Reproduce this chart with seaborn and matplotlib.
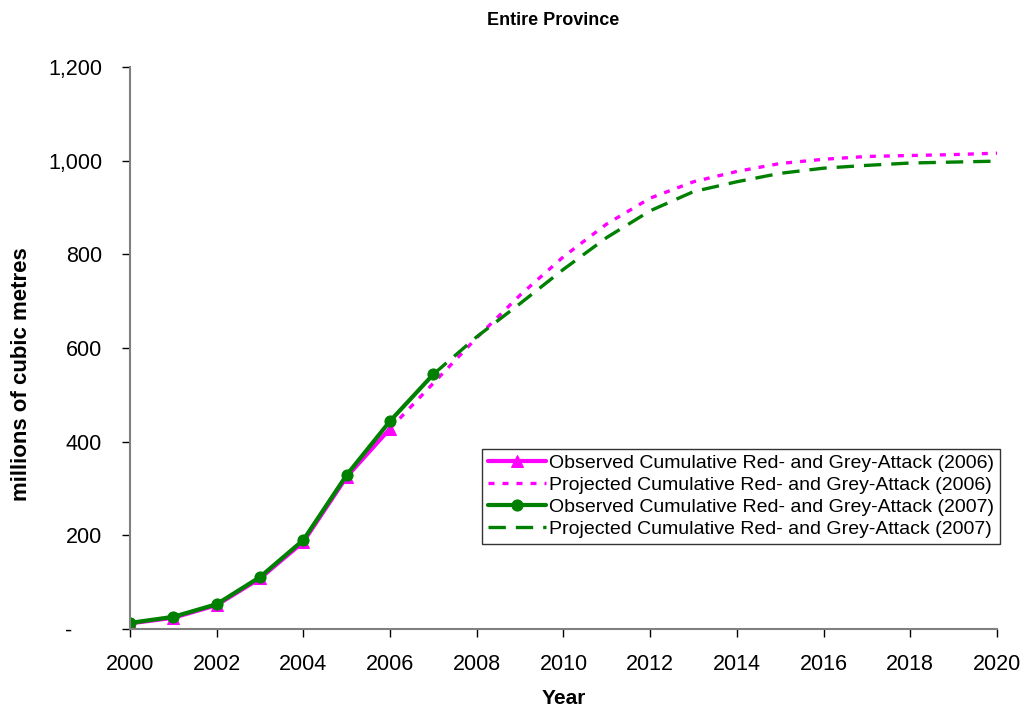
import matplotlib
matplotlib.use('Agg')
import matplotlib.pyplot as plt
import matplotlib.ticker as mticker
import seaborn as sns

# Observed and projected cumulative red- and grey-attack volumes
obs_years_2006 = [2000, 2001, 2002, 2003, 2004, 2005, 2006]
obs_2006 = [12, 24, 51, 108, 186, 325, 428]
proj_years_2006 = list(range(2006, 2021))
proj_2006 = [428, 525, 622, 713, 795, 865, 920, 955, 977, 994, 1003, 1009, 1011, 1013, 1016]

obs_years_2007 = [2000, 2001, 2002, 2003, 2004, 2005, 2006, 2007]
obs_2007 = [13, 26, 53, 111, 190, 329, 444, 544]
proj_years_2007 = list(range(2007, 2021))
proj_2007 = [544, 624, 695, 768, 836, 893, 934, 955, 973, 984, 990, 995, 997, 999]

labels = [
    'Observed Cumulative Red- and Grey-Attack (2006)',
    'Projected Cumulative Red- and Grey-Attack (2006)',
    'Observed Cumulative Red- and Grey-Attack (2007)',
    'Projected Cumulative Red- and Grey-Attack (2007)',
]

sns.set_style('white')
plt.rcParams['font.family'] = ['Liberation Sans', 'DejaVu Sans']
plt.rcParams['text.color'] = 'black'
plt.rcParams['axes.labelcolor'] = 'black'
plt.rcParams['xtick.color'] = 'black'
plt.rcParams['ytick.color'] = 'black'

fig = plt.figure(figsize=(10.23, 7.09), dpi=100)
ax = fig.add_axes([0.127, 0.1128, 0.8476, 0.7927])

magenta = '#FF00FF'
green = '#008000'

sns.lineplot(x=obs_years_2006, y=obs_2006, ax=ax, color=magenta, lw=3,
             marker='^', markersize=8, markeredgecolor=magenta, label=labels[0])
sns.lineplot(x=proj_years_2006, y=proj_2006, ax=ax, color=magenta, lw=2.4,
             linestyle=(0, (1.8, 2.4)), label=labels[1])
sns.lineplot(x=obs_years_2007, y=obs_2007, ax=ax, color=green, lw=3,
             marker='o', markersize=8, markeredgecolor=green, label=labels[2])
sns.lineplot(x=proj_years_2007, y=proj_2007, ax=ax, color=green, lw=2.4,
             linestyle=(0, (5.2, 3.0)), label=labels[3])

ax.set_xlim(2000, 2020)
ax.set_ylim(0, 1200)
ax.set_xticks(range(2000, 2021, 2))
ax.set_yticks(range(0, 1201, 200))
ax.yaxis.set_major_formatter(mticker.FuncFormatter(
    lambda v, p: '-     ' if v == 0 else f'{int(v):,}'))

for side in ['top', 'right']:
    ax.spines[side].set_visible(False)
for side in ['left', 'bottom']:
    ax.spines[side].set_color('#808080')
    ax.spines[side].set_linewidth(1.5)

ax.tick_params(axis='both', which='major', bottom=True, left=True,
               direction='out', length=6, width=1, color='black', labelsize=15.5)
ax.tick_params(axis='x', pad=12)
ax.tick_params(axis='y', pad=14)
ax.grid(False)

ax.set_title('Entire Province', fontsize=13, fontweight='bold', pad=30, x=0.488)
ax.set_xlabel('Year', fontsize=15, fontweight='bold', labelpad=10)
ax.set_ylabel('millions of cubic metres', fontsize=16, fontweight='bold')
ax.yaxis.set_label_coords(-0.113, 0.454)

leg = ax.legend(loc='lower right', bbox_to_anchor=(1.003, 0.152), fontsize=14,
                frameon=True, fancybox=False, handlelength=3.0, handletextpad=0.15,
                borderpad=0.3, labelspacing=0.22, borderaxespad=0)
leg.get_frame().set_edgecolor('black')
leg.get_frame().set_linewidth(1)

plt.savefig('out.png', dpi=100)
